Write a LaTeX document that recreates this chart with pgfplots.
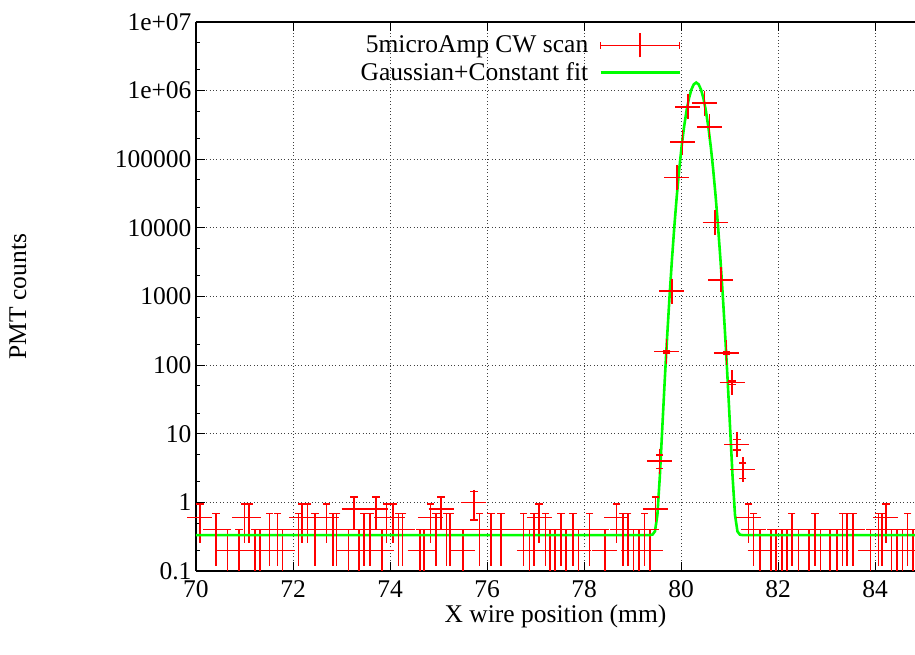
\documentclass[border=0pt]{standalone}
\usepackage{fontspec}
\setmainfont{Liberation Serif}
\usepackage{pgfplots}
\usepackage{pgfplotstable}
\pgfplotsset{compat=1.18}

\newcommand\ff{\fontsize{25.5}{28}\selectfont}

% scan points: x, counts, y error plus, y error minus
\pgfplotstableread{
x y ep em
70.08 0.6 0.346 0.346
70.41 0.4 0.283 0.283
70.65 0.2 0.2 0.19
70.89 0.2 0.2 0.19
71.00 0.6 0.346 0.346
71.09 0.6 0.346 0.346
71.22 0.2 0.2 0.19
71.32 0.2 0.2 0.19
71.51 0.4 0.283 0.283
71.68 0.4 0.283 0.283
71.78 0.2 0.2 0.19
72.11 0.4 0.283 0.283
72.18 0.6 0.346 0.346
72.30 0.6 0.346 0.346
72.45 0.4 0.283 0.283
72.69 0.6 0.346 0.346
72.82 0.4 0.283 0.283
72.90 0.4 0.283 0.283
73.14 0.2 0.2 0.19
73.26 0.8 0.4 0.4
73.36 0.2 0.2 0.19
73.46 0.4 0.283 0.283
73.59 0.4 0.283 0.283
73.71 0.8 0.4 0.4
73.83 0.2 0.2 0.19
73.93 0.6 0.346 0.346
74.06 0.6 0.346 0.346
74.17 0.4 0.283 0.283
74.26 0.4 0.283 0.283
74.62 0.2 0.2 0.19
74.70 0.2 0.2 0.19
74.83 0.6 0.346 0.346
74.95 0.4 0.283 0.283
75.05 0.8 0.4 0.4
75.16 0.4 0.283 0.283
75.24 0.4 0.283 0.283
75.50 0.2 0.2 0.19
75.73 1.0 0.447 0.447
75.84 0.4 0.283 0.283
76.08 0.4 0.283 0.283
76.29 0.4 0.283 0.283
76.75 0.4 0.283 0.283
76.87 0.2 0.2 0.19
76.97 0.4 0.283 0.283
77.07 0.6 0.346 0.346
77.20 0.4 0.283 0.283
77.30 0.2 0.2 0.19
77.40 0.2 0.2 0.19
77.52 0.4 0.283 0.283
77.63 0.2 0.2 0.19
77.77 0.4 0.283 0.283
77.88 0.2 0.2 0.19
78.11 0.4 0.283 0.283
78.43 0.2 0.2 0.19
78.67 0.6 0.346 0.346
78.80 0.4 0.283 0.283
78.90 0.4 0.283 0.283
79.02 0.2 0.2 0.19
79.13 0.2 0.2 0.19
79.24 0.4 0.283 0.283
79.36 0.2 0.2 0.19
79.47 0.8 0.4 0.4
79.55 4.0 0.894 0.894
79.70 157 5.6 5.6
79.81 1200 15.5 15.5
79.91 54000 104 104
80.03 178000 189 189
80.14 578000 340 340
80.48 655000 362 362
80.58 296000 243 243
80.70 12000 49 49
80.82 1740 18.7 18.7
80.93 151 5.5 5.5
81.05 55.6 3.33 3.33
81.15 7.0 1.18 1.18
81.27 3.0 0.775 0.775
81.39 0.6 0.346 0.346
81.49 0.4 0.283 0.283
81.63 0.2 0.2 0.19
81.85 0.2 0.2 0.19
81.95 0.2 0.2 0.19
82.08 0.2 0.2 0.19
82.18 0.2 0.2 0.19
82.28 0.4 0.283 0.283
82.42 0.2 0.2 0.19
82.64 0.2 0.2 0.19
82.76 0.4 0.283 0.283
82.87 0.2 0.2 0.19
83.07 0.2 0.2 0.19
83.21 0.2 0.2 0.19
83.33 0.4 0.283 0.283
83.42 0.4 0.283 0.283
83.54 0.4 0.283 0.283
83.90 0.2 0.2 0.19
84.07 0.4 0.283 0.283
84.14 0.4 0.283 0.283
84.22 0.6 0.346 0.346
84.34 0.2 0.2 0.19
84.45 0.2 0.2 0.19
84.56 0.2 0.2 0.19
84.67 0.4 0.283 0.283
84.78 0.2 0.2 0.19
}\scan

% fitted curve
\pgfplotstableread{
x y
70.00 0.333
79.31 0.333
79.36 0.334
79.41 0.339
79.46 0.378
79.51 0.654
79.56 2.36
79.61 11.7
79.66 57.0
79.71 251
79.76 984
79.81 3428
79.86 10610
79.91 29160
79.96 71130
80.01 154100
80.06 296300
80.11 506000
80.16 767100
80.21 1032800
80.26 1234400
80.31 1310000
80.36 1234400
80.41 1032800
80.46 767100
80.51 506000
80.56 296300
80.61 154100
80.66 71130
80.71 29160
80.76 10610
80.81 3428
80.86 984
80.91 251
80.96 57.0
81.01 11.7
81.06 2.36
81.11 0.654
81.16 0.378
81.21 0.339
81.26 0.334
81.31 0.333
84.82 0.333
}\fit

\begin{document}
\begin{tikzpicture}
\useasboundingbox (-196pt,-84pt) rectangle (719pt,571pt);
\begin{axis}[
    at={(0,0)}, anchor=south west,
    scale only axis,
    width=719pt, height=549pt,
    xmin=70, xmax=84.82,
    ymode=log, ymin=0.1, ymax=1e7,
    axis x line*=box, axis y line*=left,
    axis line style={black, line width=1.4pt},
    xtick={70,72,...,84},
    ytick={0.1,1,10,100,1000,10000,100000,1000000,10000000},
    yticklabels={0.1,1,10,100,1000,10000,100000,1e+06,1e+07},
    minor ytick={0.2,0.5,2,5,20,50,200,500,2000,5000,20000,50000,200000,500000,2000000,5000000},
    tick align=inside,
    major tick length=9pt, minor tick length=4.5pt,
    every tick/.style={black, line width=1pt},
    grid=major,
    major grid style={black!75, line width=0.9pt, dash pattern=on 1pt off 2.4pt},
    /pgf/number format/assume math mode=true,
    tick label style={font=\ff},
    xticklabel style={yshift=-6pt},
    yticklabel style={xshift=-1pt},
    xlabel={X wire position (mm)},
    ylabel={PMT counts},
    every axis x label/.style={at={(axis description cs:0.5,-0.082)}, anchor=center, font=\ff},
    every axis y label/.style={at={(axis description cs:-0.2476,0.5)}, anchor=center, rotate=90, font=\ff},
    legend style={draw=none, fill=none, font=\ff, at={(0.676,0.983)}, anchor=north east,
        row sep=3pt, column sep=9pt, inner sep=1pt},
    legend cell align=right,
    legend plot pos=right,
]
% points with their y error bars (caps drawn below)
\addplot[red, only marks, mark=+, mark size=12.5pt, mark options={line width=1.5pt},
    legend image code/.code={
        \draw[red, line width=1.5pt] (0pt,0pt) -- (79pt,0pt);
        \draw[red, line width=1.5pt] (0pt,-3.7pt) -- (0pt,3.7pt) (79pt,-3.7pt) -- (79pt,3.7pt);
        \draw[red, line width=1.5pt] (39.5pt,-12pt) -- (39.5pt,12pt);},
    error bars/.cd, y dir=both, y explicit, error mark=none,
    error bar style={red, line width=1.5pt}]
    table[x=x, y=y, y error plus=ep, y error minus=em] {\scan};
\addlegendentry{5microAmp CW scan}
% caps at the ends of the error bars
\addplot[red, only marks, mark=-, mark size=3.7pt, mark options={red, line width=1.5pt}, forget plot]
    table[x=x, y expr=\thisrow{y}+\thisrow{ep}] {\scan};
\addplot[red, only marks, mark=-, mark size=3.7pt, mark options={red, line width=1.5pt}, forget plot,
    restrict y to domain=-1.01:8, unbounded coords=discard]
    table[x=x, y expr=\thisrow{y}-\thisrow{em}] {\scan};
\addplot[green, line width=2.6pt,
    legend image code/.code={\draw[green, line width=2.6pt] (0pt,0pt) -- (79pt,0pt);}]
    table[x=x, y=y] {\fit};
\addlegendentry{Gaussian+Constant fit}
\end{axis}
\end{tikzpicture}
\end{document}
